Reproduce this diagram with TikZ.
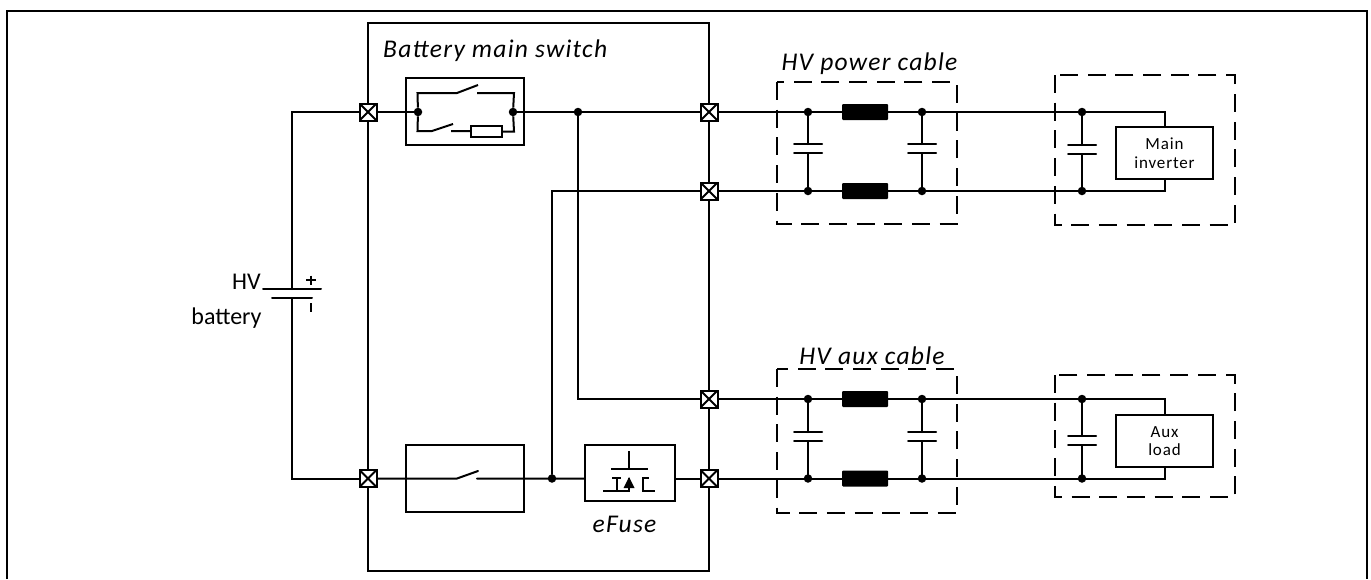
\documentclass[tikz,border=0pt]{standalone}
\usepackage{fontspec}
\setmainfont{Carlito}
\newfontfamily\spaced[LetterSpace=5]{Carlito}
\usetikzlibrary{arrows.meta}
\tikzset{
 wire/.style={line width=2pt,black,line cap=round},
 frame box/.style={draw,line width=2pt,anchor=center,inner sep=0pt},
 dashbox/.style={draw,line width=2pt,dash pattern=on 18pt off 9.7pt},
 dotj/.style={circle,fill=black,inner sep=0pt,minimum size=8.5pt},
 port/.style={rectangle,draw,fill=white,line width=2pt,minimum size=17pt,inner sep=0pt,path picture={\draw[line width=2pt](path picture bounding box.south west)--(path picture bounding box.north east)(path picture bounding box.north west)--(path picture bounding box.south east);}},
 ind/.style={rectangle,fill=black,rounded corners=1pt,minimum width=46pt,minimum height=16pt,inner sep=0pt},
 title/.style={font=\spaced\fontsize{25.5}{28}\selectfont\itshape,inner sep=0pt},
 lab/.style={font=\fontsize{24}{28}\selectfont,inner sep=0pt,align=center},
 small/.style={draw,fill=white,line width=2pt,font=\spaced\fontsize{17}{18.5}\selectfont,align=center,inner sep=0pt,minimum width=97pt}
}
\newcommand{\capv}[4]{% x, y1 (top junction), y2 (bottom), plate y top
 \coordinate (ca) at (#1,#2); \coordinate (cb) at (#1,#3);
 \draw[wire] (ca)--(#1,#4) (#1,#4+9)--(cb);
 \draw[wire] (#1-14,#4)--(#1+14,#4) (#1-14,#4+9)--(#1+14,#4+9);
}
\begin{document}
\begin{tikzpicture}[x=1pt,y=-1pt]
\useasboundingbox (0,0) rectangle (1371,579);
% outer frame
\coordinate (fa) at (7,579); \coordinate (fb) at (7,11); \coordinate (fc) at (1367,11); \coordinate (fd) at (1367,579);
\draw[line width=2pt] (fa)--(fb)--(fc)--(fd);
% main box
\node[draw,line width=2pt,minimum width=341pt,minimum height=548pt,inner sep=0pt] (mainbox) at (538.5,297) {};
\node[title,anchor=west] (tmain) at (383,51) {Battery main switch};
% ports (coordinates)
\coordinate (pA) at (368,112); \coordinate (pB) at (368,478.5);
\coordinate (p1) at (709,112); \coordinate (p2) at (709,191); \coordinate (p3) at (709,399); \coordinate (p4) at (709,478.5);
% battery wires
\coordinate (bt) at (292,289); \coordinate (bb) at (292,298);
\draw[wire] (pA)--(292,112)--(bt);
\draw[wire] (pB)--(292,478.5)--(bb);
\draw[wire] (263,289)--(321,289) (272,298)--(312,298);
\draw[line width=2pt] (306,280)--(316,280) (311,275.5)--(311,284.5) (310.5,303)--(310.5,312);
\node[lab,anchor=east] (hv) at (261,282) {HV};
\node[lab] (batt) at (226.5,318) {battery};
% top wires
\node[dotj] (j1) at (418,112) {}; \node[dotj] (j2) at (513,112) {};
\node[dotj] (j3) at (578,112) {}; \node[dotj] (j4) at (552,478.5) {};
\draw[wire] (pA)--(j1) (j2)--(p1);
\draw[wire] (j3)--(578,399)--(p3);
\draw[wire] (p2)--(552,191)--(j4);
\draw[wire] (pB)--(457,478.5)--(478,471) (477,478.5)--(585,478.5);
\draw[wire] (675,478.5)--(p4);
% cable and load wires
\draw[wire] (p1)--(1165,112)--(1165,127);
\draw[wire] (p2)--(1165,191)--(1165,179);
\draw[wire] (p3)--(1165,399)--(1165,415);
\draw[wire] (p4)--(1165,478.5)--(1165,467);
% switch boxes
\node[frame box,minimum width=118pt,minimum height=67pt] (swbox) at (465,111.5) {};
\node[frame box,minimum width=118pt,minimum height=67pt] (swbox2) at (465,478.5) {};
% main switch inner
\draw[wire,line cap=butt] (j1)--(417.5,93)--(457,93)--(478,85) (477,93)--(514,93)--(j2);
\draw[wire,line cap=butt] (j1)--(417.5,131)--(432,131)--(453,124) (451,131)--(471,131);
\node[draw,fill=white,line width=2pt,minimum width=31pt,minimum height=11pt,inner sep=0pt] (res) at (486.5,131.5) {};
\draw[wire,line cap=butt] (res.east)--(514,131.5)--(j2);
% efuse
\node[frame box,fill=white,minimum width=90pt,minimum height=56pt] (ef) at (630,473) {};
\draw[wire,line cap=butt] (629,451)--(629,469) (611,469)--(648,469);
\draw[wire,line cap=butt] (612,478)--(621,478) (616.5,478)--(616.5,491) (603,491)--(629,491)--(629,478);
\draw[wire,line cap=butt] (642,478)--(649,478) (643,478)--(643,491)--(655,491);
\fill (629,477)--(634.5,488)--(623.5,488)--cycle;
\node[title] (tef) at (624.5,524) {eFuse};
% cable boxes
\foreach \yy/\yb/\nm/\tx/\ty/\txt in {82/224/a/869.5/64/{HV power cable},369/513/b/872/356/{HV aux cable}}{
 \draw[dashbox] (777,\yy) rectangle (957,\yb);
 \node[title] (t\nm) at (\tx,\ty) {\txt};
}
\foreach \yt/\yl/\pl in {112/191/144,399/478.5/432}{
 \node[ind] at (865,\yt) {}; \node[ind] at (865,\yl) {};
 \node[dotj] at (808,\yt) {}; \node[dotj] at (808,\yl) {};
 \node[dotj] at (922,\yt) {}; \node[dotj] at (922,\yl) {};
 \capv{808}{\yt}{\yl}{\pl}
 \capv{922}{\yt}{\yl}{\pl}
}
% loads
\draw[dashbox] (1055,75) rectangle (1235,225);
\draw[dashbox] (1055,375) rectangle (1235,497);
\node[dotj] at (1082,112) {}; \node[dotj] at (1082,191) {};
\node[dotj] at (1082,399) {}; \node[dotj] at (1082,478.5) {};
\capv{1082}{112}{191}{145}
\capv{1082}{399}{478.5}{436}
\node[small,minimum height=52pt] (inv) at (1164.5,153) {Main\\inverter};
\node[small,minimum height=52pt] (aux) at (1164.5,441) {Aux\\load};
% ports on top
\foreach \p in {pA,pB,p1,p2,p3,p4}{\node[port] at (\p) {};}
\end{tikzpicture}
\end{document}
